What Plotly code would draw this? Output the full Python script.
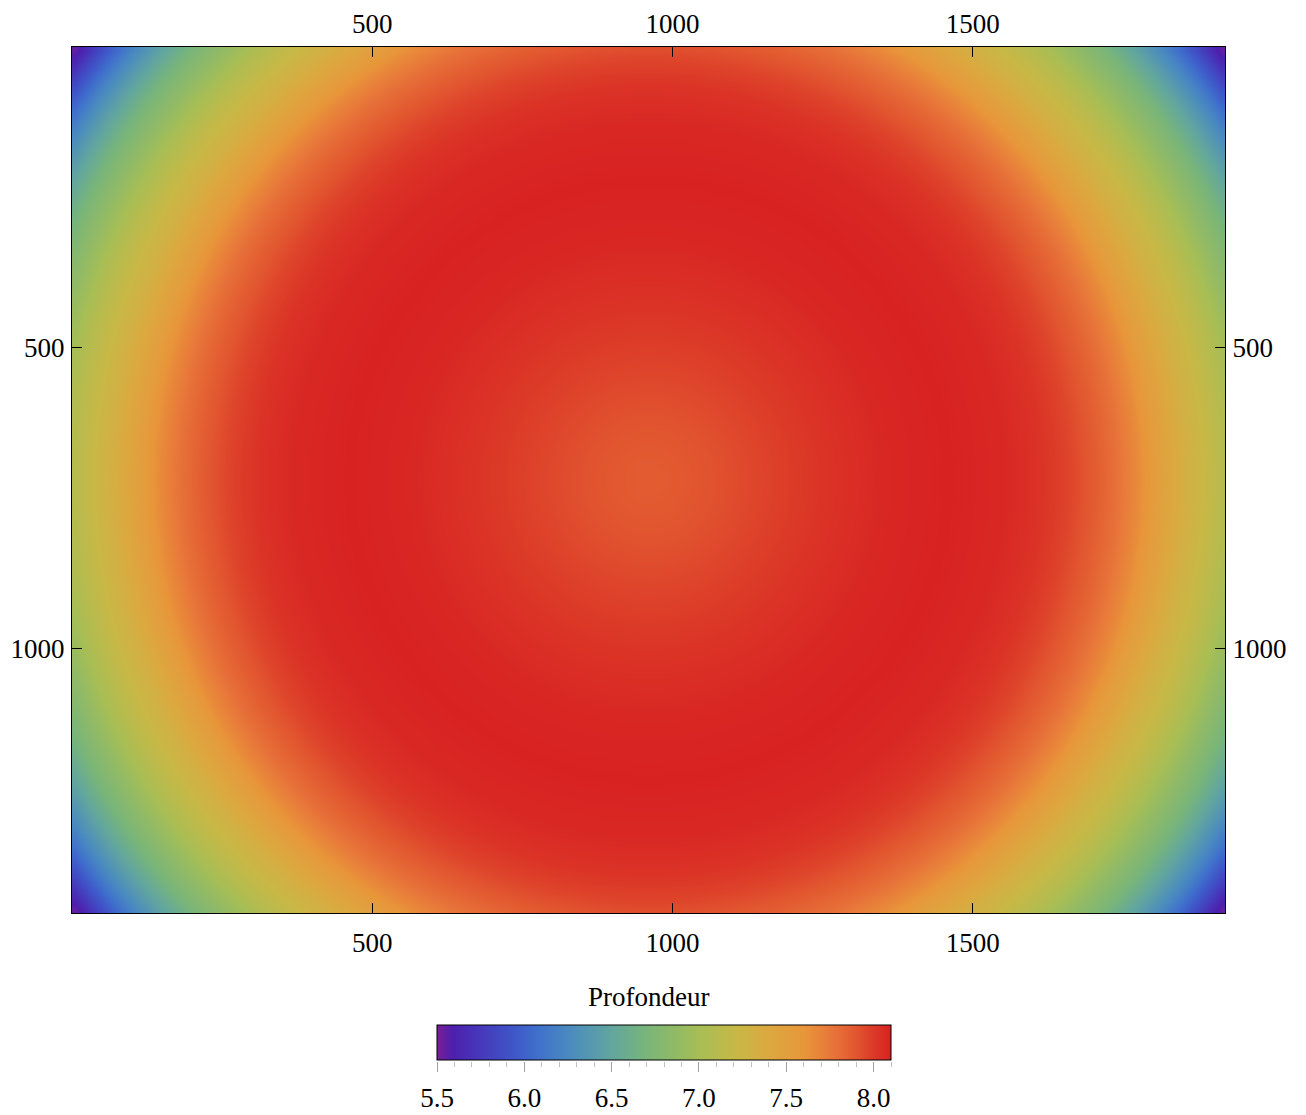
import numpy as np
import plotly.graph_objects as go

# ---- data ----
img_width = 1920
img_height = 1440
center_x = 960
center_y = 720
# radial depth profile: distance from image centre -> depth
radius = [0, 100, 200, 300, 400, 500, 600, 650, 700, 740, 780, 815, 850,
          890, 930, 965, 1000, 1045, 1085, 1120, 1155, 1185, 1200]
depth = [7.87, 7.91, 7.97, 8.03, 8.08, 8.10, 8.07, 8.03, 7.96, 7.88, 7.78,
         7.66, 7.50, 7.33, 7.20, 7.07, 6.90, 6.70, 6.45, 6.20, 5.90, 5.60, 5.50]
zmin, zmax = 5.5, 8.1
axis_ticks = [500, 1000, 1500]
cbar_ticks = [5.5, 6.0, 6.5, 7.0, 7.5, 8.0]
cbar_title = "Profondeur"

# colour map
colorscale = [
    [0.000, "#7a1f95"], [0.035, "#4d1fae"], [0.165, "#3f55c8"],
    [0.220, "#3f6fcc"], [0.290, "#4a8ac0"], [0.385, "#62a69e"],
    [0.460, "#78b57a"], [0.577, "#a6be55"], [0.660, "#c8b846"],
    [0.730, "#dca840"], [0.810, "#e8963a"], [0.865, "#e8783a"],
    [0.920, "#e25830"], [0.960, "#dc3a28"], [1.000, "#d82222"],
]

# ---- build the grid from the radial profile ----
step = 10
xs = np.arange(step / 2, img_width, step)
ys = np.arange(step / 2, img_height, step)
XX, YY = np.meshgrid(xs, ys)
R = np.hypot(XX - center_x, YY - center_y)
Z = np.interp(R, radius, depth)

W, H = 1306, 1115
OFF = 8  # page body margin
def fx(p): return (p - OFF) / W
def fy(p): return 1 - (p - OFF) / H

FONT = "Liberation Serif"
FS = 27

fig = go.Figure()
fig.add_trace(go.Heatmap(
    x=xs, y=ys, z=Z, zmin=zmin, zmax=zmax, colorscale=colorscale,
    zsmooth="best", hoverinfo="skip",
    colorbar=dict(
        orientation="h", x=fx(437), xanchor="left", y=fy(1061), yanchor="bottom",
        thickness=35, len=454, lenmode="pixels", xpad=0, ypad=0,
        outlinewidth=1, outlinecolor="black", showticklabels=False, ticks="",
    ),
))
# twin heatmap (invisible) for the mirrored top/right axes
fig.add_trace(go.Heatmap(
    x=xs, y=ys, z=Z, zmin=zmin, zmax=zmax, colorscale=colorscale,
    showscale=False, opacity=0, hoverinfo="skip", xaxis="x2", yaxis="y2",
))
# helper for colour-bar axis
fig.add_trace(go.Scatter(
    x=[zmin, zmax], y=[0.5, 0.5], mode="markers", marker=dict(opacity=0),
    hoverinfo="skip", showlegend=False, xaxis="x3", yaxis="y3",
))

common = dict(showgrid=False, zeroline=False, ticks="inside", ticklen=10,
              tickwidth=1, tickcolor="black", showline=True, linecolor="black",
              linewidth=1, automargin=False,
              tickfont=dict(family=FONT, size=FS, color="black"))

fig.update_layout(
    width=W, height=H, margin=dict(l=0, r=0, t=0, b=0),
    template="none", paper_bgcolor="white", plot_bgcolor="white",
    showlegend=False,
    xaxis=dict(domain=[fx(72), fx(1225)], range=[0, img_width], anchor="y",
               side="bottom", tickvals=axis_ticks, mirror=True,
               ticklabelstandoff=6, **common),
    xaxis2=dict(domain=[fx(72), fx(1225)], range=[0, img_width], anchor="y",
                overlaying="x", side="top", tickvals=axis_ticks,
                ticklabelstandoff=2, **common),
    yaxis=dict(domain=[fy(913), fy(47)], range=[img_height, 0], anchor="x",
               side="left", tickvals=axis_ticks, mirror=True,
               ticklabelstandoff=1, **common),
    yaxis2=dict(domain=[fy(913), fy(47)], range=[img_height, 0], anchor="x",
                overlaying="y", side="right", tickvals=axis_ticks,
                ticklabelstandoff=1, **common),
    xaxis3=dict(domain=[fx(437), fx(891)], range=[zmin, zmax], anchor="y3",
                showgrid=False, zeroline=False, showline=False,
                ticks="outside", ticklen=10, tickwidth=1, tickcolor="#a0a0a0",
                tickvals=cbar_ticks, ticktext=[f"{v:.1f}" for v in cbar_ticks],
                tickfont=dict(family=FONT, size=FS, color="black"),
                ticklabelstandoff=3,
                minor=dict(ticks="outside", ticklen=5, tickwidth=1,
                           tickcolor="#c0c0c0", dtick=0.1, tick0=zmin),
                automargin=False, fixedrange=True),
    yaxis3=dict(domain=[fy(1061), fy(1026)], range=[0, 1], anchor="x3",
                visible=False, fixedrange=True),
    annotations=[dict(text=cbar_title, x=fx(648), y=fy(997), xref="paper",
                      yref="paper", showarrow=False, xanchor="center",
                      yanchor="middle",
                      font=dict(family=FONT, size=FS, color="black"))],
)

fig.write_html("out.html")
